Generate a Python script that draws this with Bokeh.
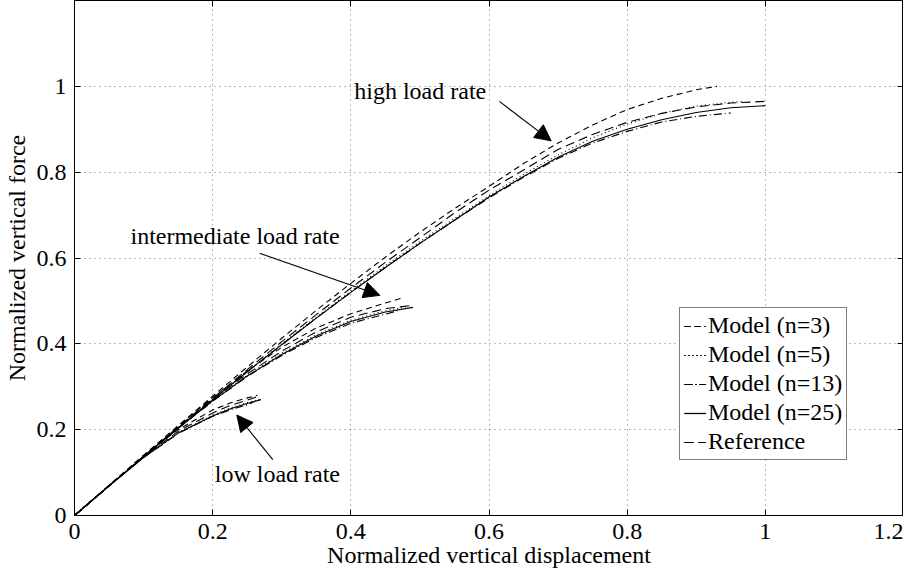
import math
from bokeh.plotting import figure
from bokeh.models import (Range1d, LinearAxis, FixedTicker, Legend, LegendItem,
                          Arrow, NormalHead, Label)
from bokeh.embed import file_html
from bokeh.resources import INLINE

FONT = "Liberation Serif"

# ---- data ----
# high load rate
hi_x_n3 = [0, .05, .1, .15, .2, .25, .3, .35, .4, .45, .5, .55, .6, .65, .7, .75, .8, .85, .9, .93]
hi_y_n3 = [0, .07, .14, .209, .278, .346, .413, .478, .541, .602, .66, .715, .767, .82, .868, .91, .946, .972, .992, 1.0]
hi_x_n5 = [0, .05, .1, .15, .2, .25, .3, .35, .4, .45, .5, .55, .6, .65, .7, .75, .8, .85, .9, .95, .97]
hi_y_n5 = [0, .069, .137, .204, .27, .336, .4, .462, .523, .582, .638, .692, .745, .795, .84, .88, .912, .937, .954, .963, .965]
hi_x_n13 = [0, .05, .1, .15, .2, .25, .3, .35, .4, .45, .5, .55, .6, .65, .7, .75, .8, .85, .9, .95]
hi_y_n13 = [0, .069, .137, .204, .27, .335, .398, .46, .52, .578, .634, .688, .74, .788, .832, .868, .895, .917, .93, .938]
hi_x_n25 = [0, .05, .1, .15, .2, .25, .3, .35, .4, .45, .5, .55, .6, .65, .7, .75, .8, .85, .9, .95, 1.0]
hi_y_n25 = [0, .069, .137, .204, .27, .335, .398, .46, .52, .578, .634, .688, .742, .79, .835, .872, .9, .922, .939, .95, .955]
hi_x_ref = [0, .05, .1, .15, .2, .25, .3, .35, .4, .45, .5, .55, .6, .65, .7, .75, .8, .85, .9, .95, 1.0]
hi_y_ref = [0, .069, .138, .206, .273, .34, .405, .468, .53, .59, .647, .705, .758, .805, .853, .888, .916, .937, .952, .961, .965]

# intermediate load rate
mid_x_n3 = [0, .05, .1, .15, .2, .25, .3, .35, .4, .45, .475]
mid_y_n3 = [0, .07, .14, .208, .275, .337, .392, .437, .47, .495, .507]
mid_x_n5 = [0, .05, .1, .15, .2, .25, .3, .35, .4, .45, .485]
mid_y_n5 = [0, .069, .137, .204, .268, .327, .378, .421, .455, .477, .488]
mid_x_n13 = [0, .05, .1, .15, .2, .25, .3, .35, .4, .45, .47]
mid_y_n13 = [0, .069, .137, .203, .266, .324, .373, .415, .448, .469, .478]
mid_x_n25 = [0, .05, .1, .15, .2, .25, .3, .35, .4, .45, .49]
mid_y_n25 = [0, .069, .137, .203, .267, .325, .375, .418, .452, .474, .485]
mid_x_ref = [0, .05, .1, .15, .2, .25, .3, .35, .4, .45, .49]
mid_y_ref = [0, .069, .138, .205, .27, .33, .383, .428, .462, .482, .49]

# low load rate
lo_x_n3 = [0, .05, .1, .15, .2, .225, .25, .265]
lo_y_n3 = [0, .07, .14, .2, .246, .262, .274, .28]
lo_x_n5 = [0, .05, .1, .15, .2, .225, .25, .27]
lo_y_n5 = [0, .069, .136, .193, .234, .25, .263, .272]
lo_x_n13 = [0, .05, .1, .15, .2, .225, .25, .26]
lo_y_n13 = [0, .069, .135, .191, .231, .246, .258, .265]
lo_x_n25 = [0, .05, .1, .15, .2, .225, .25, .27]
lo_y_n25 = [0, .069, .135, .192, .232, .248, .261, .27]
lo_x_ref = [0, .05, .1, .15, .2, .225, .25, .265]
lo_y_ref = [0, .069, .137, .196, .239, .256, .269, .277]

x_ticks = [0, 0.2, 0.4, 0.6, 0.8, 1.0, 1.2]
x_tick_labels = ["0", "0.2", "0.4", "0.6", "0.8", "1", "1.2"]
y_ticks = [0, 0.2, 0.4, 0.6, 0.8, 1.0]
y_tick_labels = ["0", "0.2", "0.4", "0.6", "0.8", "1"]

x_title = "Normalized vertical displacement"
y_title = "Normalized vertical force"

series_names = ["Model (n=3)", "Model (n=5)", "Model (n=13)", "Model (n=25)", "Reference"]

# annotations: text, text position, arrow tail, arrow tip
ann_texts = ["high load rate", "intermediate load rate", "low load rate"]
ann_text_x = [0.405, 0.081, 0.203]
ann_text_y = [0.99, 0.652, 0.097]
ann_tail_x = [0.615, 0.268, 0.287]
ann_tail_y = [0.965, 0.611, 0.13]
ann_tip_x = [0.69, 0.442, 0.235]
ann_tip_y = [0.873, 0.513, 0.234]

# ---- figure ----
p = figure(width=903, height=570, output_backend="svg", toolbar_location=None,
           x_range=Range1d(0, 1.2), y_range=Range1d(0, 1.2),
           min_border_left=74, min_border_right=0, min_border_top=0, min_border_bottom=40)
p.outline_line_color = "black"
p.outline_line_width = 1
p.background_fill_color = "white"
p.border_fill_color = "white"

styles = [
    dict(line_dash="6 4"),
    dict(line_dash="1 3"),
    dict(line_dash="8 3 1 3"),
    dict(line_dash="solid"),
    dict(line_dash="9 5"),
]
groups = [
    [(hi_x_n3, hi_y_n3), (hi_x_n5, hi_y_n5), (hi_x_n13, hi_y_n13), (hi_x_n25, hi_y_n25), (hi_x_ref, hi_y_ref)],
    [(mid_x_n3, mid_y_n3), (mid_x_n5, mid_y_n5), (mid_x_n13, mid_y_n13), (mid_x_n25, mid_y_n25), (mid_x_ref, mid_y_ref)],
    [(lo_x_n3, lo_y_n3), (lo_x_n5, lo_y_n5), (lo_x_n13, lo_y_n13), (lo_x_n25, lo_y_n25), (lo_x_ref, lo_y_ref)],
]
renderers = [[] for _ in series_names]
for g in groups:
    for i, (xs, ys) in enumerate(g):
        r = p.line(xs, ys, line_color="black", line_width=1.1, **styles[i])
        renderers[i].append(r)

# axes
for ax in (p.xaxis[0], p.yaxis[0]):
    ax.major_tick_in = 6
    ax.major_tick_out = 0
    ax.minor_tick_line_color = None
    ax.axis_line_color = "black"
    ax.major_label_text_font = FONT
    ax.major_label_text_font_size = "24px"
    ax.major_label_text_color = "black"
    ax.axis_label_text_font = FONT
    ax.axis_label_text_font_size = "24px"
    ax.axis_label_text_font_style = "normal"
    ax.axis_label_text_color = "black"

p.xaxis[0].ticker = FixedTicker(ticks=x_ticks)
p.xaxis[0].major_label_overrides = {t: l for t, l in zip(x_ticks, x_tick_labels)}
p.yaxis[0].ticker = FixedTicker(ticks=y_ticks)
p.yaxis[0].major_label_overrides = {t: l for t, l in zip(y_ticks, y_tick_labels)}
p.xaxis[0].axis_label = x_title
p.yaxis[0].axis_label = y_title
p.xaxis[0].major_label_standoff = 8
p.xaxis[0].axis_label_standoff = 0
p.yaxis[0].major_label_standoff = 8
p.yaxis[0].axis_label_standoff = 4

# tick marks on top and right edges (minor ticks only, no labels)
top_ax = LinearAxis(ticker=FixedTicker(ticks=[], minor_ticks=x_ticks),
                    major_tick_in=0, major_tick_out=0, minor_tick_in=6, minor_tick_out=0,
                    minor_tick_line_color="black", major_label_standoff=0,
                    axis_line_color="black")
right_ax = LinearAxis(ticker=FixedTicker(ticks=[], minor_ticks=y_ticks),
                      major_tick_in=0, major_tick_out=0, minor_tick_in=6, minor_tick_out=0,
                      minor_tick_line_color="black", major_label_standoff=0,
                      axis_line_color="black")
p.add_layout(top_ax, "above")
p.add_layout(right_ax, "right")

# grid
p.xgrid.ticker = FixedTicker(ticks=x_ticks)
p.ygrid.ticker = FixedTicker(ticks=y_ticks)
for g in (p.xgrid[0], p.ygrid[0]):
    g.grid_line_color = "black"
    g.grid_line_alpha = 0.55
    g.grid_line_dash = "1 4"
    g.grid_line_width = 1

# annotations
for t, tx, ty, ax0, ay0, ax1, ay1 in zip(ann_texts, ann_text_x, ann_text_y,
                                        ann_tail_x, ann_tail_y, ann_tip_x, ann_tip_y):
    p.add_layout(Label(x=tx, y=ty, text=t, text_font=FONT, text_font_size="24px",
                       text_color="black", text_baseline="middle", text_align="left"))
    p.add_layout(Arrow(x_start=ax0, y_start=ay0, x_end=ax1, y_end=ay1,
                       line_color="black", line_width=1.1,
                       end=NormalHead(size=16, fill_color="black", line_color="black")))

# legend
items = [LegendItem(label=n, renderers=renderers[i]) for i, n in enumerate(series_names)]
legend = Legend(items=items, location=(605, 55), label_text_font=FONT,
                label_text_font_size="24px", label_text_color="black",
                glyph_width=22, glyph_height=22, label_height=22, label_standoff=2,
                spacing=2, padding=4, margin=0, border_line_color="black",
                border_line_width=1, background_fill_color="white", background_fill_alpha=1)
p.add_layout(legend, "center")

open("out.html", "w").write(file_html(p, INLINE))
